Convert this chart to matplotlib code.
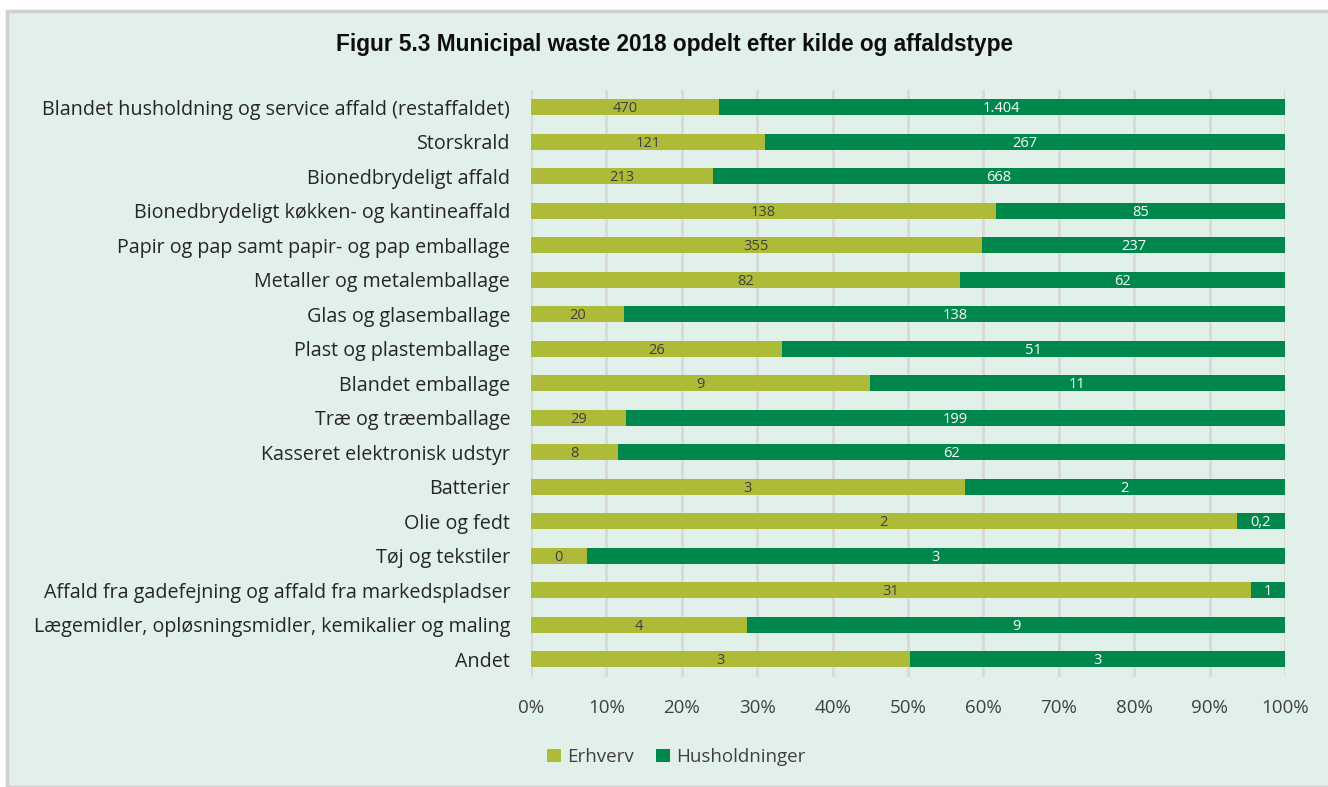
import matplotlib
matplotlib.use("Agg")
import matplotlib.pyplot as plt
from matplotlib.patches import Rectangle

# Kategorier (top -> bund)
categories = [
    "Blandet husholdning og service affald (restaffaldet)",
    "Storskrald",
    "Bionedbrydeligt affald",
    "Bionedbrydeligt køkken- og kantineaffald",
    "Papir og pap samt papir- og pap emballage",
    "Metaller og metalemballage",
    "Glas og glasemballage",
    "Plast og plastemballage",
    "Blandet emballage",
    "Træ og træemballage",
    "Kasseret elektronisk udstyr",
    "Batterier",
    "Olie og fedt",
    "Tøj og tekstiler",
    "Affald fra gadefejning og affald fra markedspladser",
    "Lægemidler, opløsningsmidler, kemikalier og maling",
    "Andet",
]

# Erhvervs andel, resten er husholdninger
erhverv_share = [0.249, 0.310, 0.241, 0.617, 0.598, 0.569, 0.124, 0.333, 0.449,
                 0.126, 0.116, 0.575, 0.936, 0.074, 0.955, 0.287, 0.503]
husholdning_share = [1 - s for s in erhverv_share]

# Datalabels (1000 tons)
erhverv_labels = ["470", "121", "213", "138", "355", "82", "20", "26", "9",
                  "29", "8", "3", "2", "0", "31", "4", "3"]
husholdning_labels = ["1.404", "267", "668", "85", "237", "62", "138", "51", "11",
                      "199", "62", "2", "0,2", "3", "1", "9", "3"]

series_names = ["Erhverv", "Husholdninger"]
ticks = [i / 10 for i in range(11)]
tick_labels = [f"{i * 10}%" for i in range(11)]

C_ERH = "#adbb38"
C_HUS = "#00874b"
BG = "#e2f0ea"
FONT = ["Open Sans", "DejaVu Sans"]

fig = plt.figure(figsize=(13.28, 7.87), dpi=100, facecolor="white")
# panel baggrund med graa kant
bg = Rectangle((7 / 1328, 0), 1, 1 - 11 / 787, transform=fig.transFigure,
               facecolor=BG, edgecolor="#d0d0d0", linewidth=2.5, zorder=-10)
fig.add_artist(bg)

ax = fig.add_axes([531 / 1328, 1 - 676.5 / 787, 754 / 1328, 586.5 / 787])
ax.set_facecolor("none")
ax.set_zorder(2)

y = list(range(len(categories)))
h = 0.46
ax.barh(y, erhverv_share, height=h, color=C_ERH, label=series_names[0], zorder=3)
ax.barh(y, husholdning_share, left=erhverv_share, height=h, color=C_HUS,
        label=series_names[1], zorder=3)

for i in y:
    e = erhverv_share[i]
    ax.text(e / 2, i + 0.04, erhverv_labels[i], ha="center", va="center", fontsize=10.5,
            color="#404040", family=FONT, zorder=4)
    ax.text(e + (1 - e) / 2, i + 0.04, husholdning_labels[i], ha="center", va="center",
            fontsize=10.5, color="white", family=FONT, zorder=4)

ax.set_xlim(0, 1)
ax.set_ylim(len(categories) - 0.5, -0.5)
ax.set_xticks(ticks)
ax.set_xticklabels(tick_labels, fontsize=13.5, color="#404040", family=FONT)
ax.set_yticks(y)
ax.set_yticklabels(categories, fontsize=14.2, color="#262626", family=FONT)
ax.tick_params(axis="x", length=0, pad=16)
ax.tick_params(axis="y", length=0, pad=15)
ax.grid(axis="x", color="#d9d9d9", linewidth=2, zorder=0)
ax.set_axisbelow(True)
for s in ax.spines.values():
    s.set_visible(False)

fig.text(674 / 1328, 1 - 45 / 787,
         "Figur 5.3 Municipal waste 2018 opdelt efter kilde og affaldstype",
         ha="center", va="center", fontsize=16.3, fontweight="bold", color="#0d0d0d",
         family=["Liberation Sans", "DejaVu Sans"])

leg = fig.legend(loc="center", bbox_to_anchor=(676 / 1328, 1 - 757 / 787), ncol=2,
                 frameon=False, prop={"family": FONT, "size": 13.5},
                 handlelength=0.75, handleheight=0.75, handletextpad=0.3,
                 columnspacing=1.2)
for t in leg.get_texts():
    t.set_color("#404040")

fig.savefig("out.png", dpi=100, facecolor=fig.get_facecolor())
